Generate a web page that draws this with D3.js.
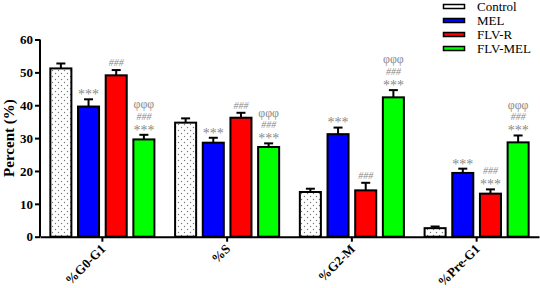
<!DOCTYPE html>
<html><head><meta charset="utf-8">
<script src="https://cdn.jsdelivr.net/npm/d3@7"></script>
<style>body{margin:0;background:#fff}svg{display:block}
svg text{font-family:"Liberation Serif","Tinos","Times New Roman","DejaVu Serif",serif}</style>
</head><body>
<svg id="c" width="540" height="288"></svg>
<script>
const phases = ["%G0-G1", "%S", "%G2-M", "%Pre-G1"];
const groups = ["Control", "MEL", "FLV-R", "FLV-MEL"];
const colors = ["#ffffff", "#0000ff", "#ff0000", "#00ff00"];
const controlVals = [51.2, 34.7, 13.6, 2.6];
const melVals = [39.6, 28.6, 31.2, 19.4];
const flvrVals = [49.1, 36.2, 14.1, 13.1];
const flvmelVals = [29.6, 27.3, 42.4, 28.7];
const controlErr = [1.5, 1.3, 1.0, 0.5];
const melErr = [2.2, 1.5, 2.0, 1.3];
const flvrErr = [1.6, 1.5, 2.3, 1.3];
const flvmelErr = [1.4, 1.1, 2.2, 2.1];
// significance marks per group (bottom to top), per phase
const controlSig = [[], [], [], []];
const melSig = [["***"], ["***"], ["***"], ["***"]];
const flvrSig = [["###"], ["###"], ["###"], ["***", "###"]];
const flvmelSig = [["***", "###", "φφφ"], ["***", "###", "φφφ"], ["***", "###", "φφφ"], ["***", "###", "φφφ"]];
const yTicks = [0, 10, 20, 30, 40, 50, 60];

const vals = [controlVals, melVals, flvrVals, flvmelVals];
const errs = [controlErr, melErr, flvrErr, flvmelErr];
const sigs = [controlSig, melSig, flvrSig, flvmelSig];

const svg = d3.select("#c");

const defs = svg.append("defs");
const pat = defs.append("pattern").attr("id", "dots").attr("patternUnits", "userSpaceOnUse")
  .attr("width", 6).attr("height", 6);
pat.append("rect").attr("width", 6).attr("height", 6).attr("fill", "#fff");
pat.append("circle").attr("cx", 1.5).attr("cy", 1.5).attr("r", 0.7).attr("fill", "#777");
pat.append("circle").attr("cx", 4.5).attr("cy", 4.5).attr("r", 0.7).attr("fill", "#777");

const y = d3.scaleLinear().domain([0, 60]).range([236.7, 39.5]);
const x0 = d3.scaleBand().domain(phases).range([40, 539]).paddingInner(0.166).paddingOuter(0.083);
const x1 = d3.scaleBand().domain(groups).range([0, x0.bandwidth()]).paddingInner(0.24).paddingOuter(0);

const data = [];
phases.forEach((p, i) => groups.forEach((g, j) => {
  data.push({p, g, j, v: vals[j][i], e: errs[j][i], s: sigs[j][i]});
}));

const symStyle = {
  "***": {fs: 14, shift: 7.2, italic: false},
  "###": {fs: 10, shift: 3.4, italic: true},
  "φφφ": {fs: 12, shift: 2.9, italic: false}
};

const bars = svg.append("g");
data.forEach(d => {
  const bx = x0(d.p) + x1(d.g);
  const bw = x1.bandwidth();
  const cx = bx + bw / 2;
  bars.append("line").attr("x1", cx).attr("x2", cx).attr("y1", y(d.v)).attr("y2", y(d.v + d.e))
    .attr("stroke", "#000").attr("stroke-width", 2);
  bars.append("line").attr("x1", cx - 4.5).attr("x2", cx + 4.5).attr("y1", y(d.v + d.e)).attr("y2", y(d.v + d.e))
    .attr("stroke", "#000").attr("stroke-width", 2);
  bars.append("rect").attr("x", bx).attr("y", y(d.v)).attr("width", bw).attr("height", y(0) - y(d.v))
    .attr("fill", d.j === 0 ? "url(#dots)" : colors[d.j]).attr("stroke", "#000").attr("stroke-width", 2);
  const cap = y(d.v + d.e);
  d.s.forEach((t, k) => {
    const st = symStyle[t];
    const center = cap - 7.3 - 11.2 * k;
    bars.append("text").attr("x", cx).attr("y", center + st.shift).attr("text-anchor", "middle")
      .style("font-size", st.fs + "px").attr("fill", "#8a8a8a")
      .style("font-style", st.italic ? "italic" : "normal").text(t);
  });
});

const yAxis = svg.append("g").attr("transform", "translate(40,0)")
  .call(d3.axisLeft(y).tickValues(yTicks).tickSize(5).tickPadding(2));
yAxis.attr("font-family", null).attr("font-size", null);
yAxis.selectAll("path,line").attr("stroke", "#000").attr("stroke-width", 2);
yAxis.select("path").attr("d", `M0,${y(60)}V${y(0)}`);
yAxis.selectAll("text").style("font-weight", "bold").style("font-size", "13px").attr("fill", "#000");

const xAxis = svg.append("g").attr("transform", `translate(0,${y(0)})`)
  .call(d3.axisBottom(x0).tickSize(5).tickSizeOuter(0));
xAxis.attr("font-family", null).attr("font-size", null);
xAxis.selectAll("path,line").attr("stroke", "#000").attr("stroke-width", 2);
xAxis.selectAll("text").style("font-weight", "bold").style("font-size", "13px").attr("fill", "#000")
  .attr("text-anchor", "end").attr("dy", null).attr("y", 0).attr("x", 0)
  .attr("transform", "translate(4,13) rotate(-45)");

svg.append("text").attr("transform", `translate(14,${(y(0) + y(60)) / 2}) rotate(-90)`)
  .attr("text-anchor", "middle").style("font-weight", "bold").style("font-size", "15px")
  .text("Percent (%)");

const leg = svg.append("g");
groups.forEach((g, j) => {
  const ly = 6.5 + j * 14;
  leg.append("rect").attr("x", 443.5).attr("y", ly - 2).attr("width", 21).attr("height", 4)
    .attr("fill", colors[j]).attr("stroke", "#000").attr("stroke-width", 1.5);
  leg.append("text").attr("x", 477).attr("y", ly + 4.5).style("font-size", "13px")
    .attr("fill", "#000").text(g);
});
</script>
</body></html>
